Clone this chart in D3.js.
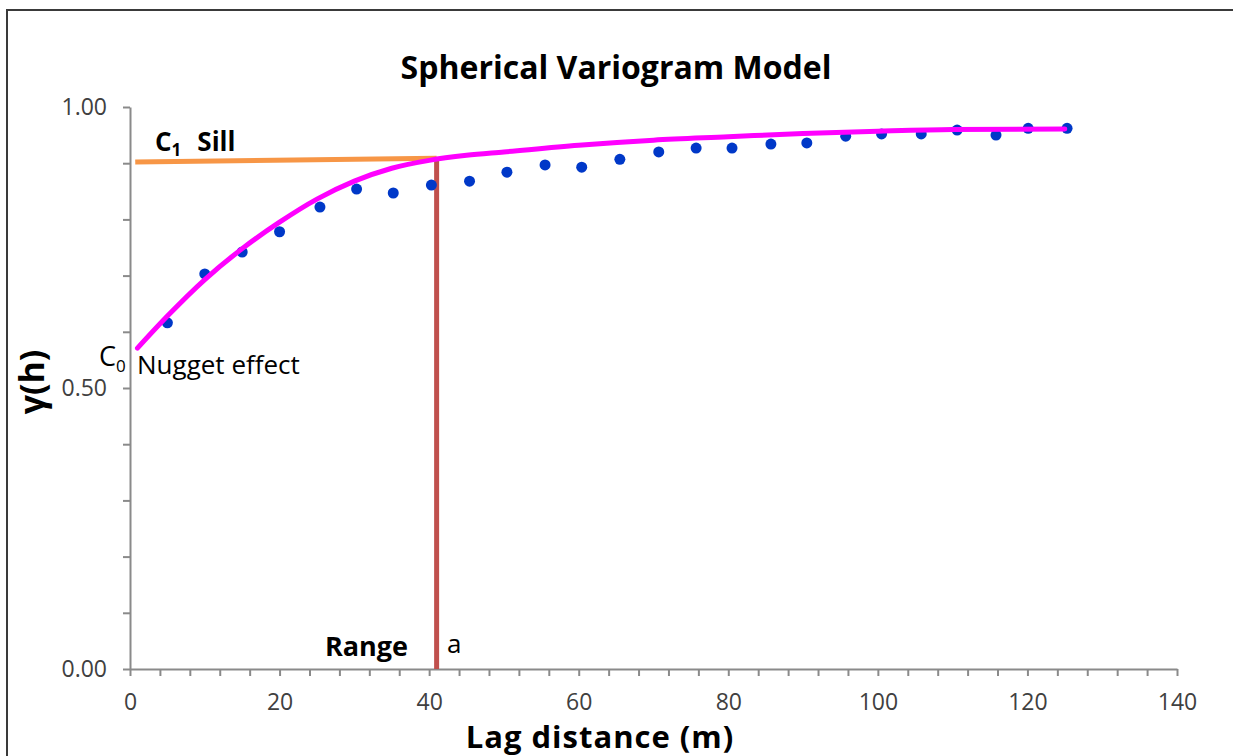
<!DOCTYPE html>
<html>
<head>
<meta charset="utf-8">
<script src="https://cdn.jsdelivr.net/npm/d3@7"></script>
<style>
  body { margin: 0; background: #fff; }
  text { font-family: "Open Sans", sans-serif; }
</style>
</head>
<body>
<div id="chart"></div>
<script>
var svgWidth = 1233;
var svgHeight = 756;

var margin = {
  top: 107,
  right: 56,
  bottom: 87,
  left: 130
};

var width = svgWidth - margin.left - margin.right;
var height = svgHeight - margin.top - margin.bottom;

var lagDistance = [5, 10, 15, 20, 25.4, 30.3, 35.2, 40.3, 45.4, 50.4, 55.5, 60.4, 65.5,
  70.7, 75.7, 80.5, 85.7, 90.5, 95.7, 100.5, 105.8, 110.6, 115.8, 120.1, 125.3];
var gammaObserved = [0.616, 0.703, 0.742, 0.778, 0.822, 0.854, 0.847, 0.861, 0.868, 0.884,
  0.897, 0.893, 0.907, 0.920, 0.927, 0.927, 0.934, 0.936, 0.948, 0.952, 0.952, 0.959,
  0.950, 0.962, 0.962];

// fitted model curve
var modelLag = [1, 5, 10, 15, 20, 25, 30, 35, 40, 45, 50, 60, 70, 80, 90, 100, 110, 125];
var modelGamma = [0.571, 0.628, 0.693, 0.748, 0.795, 0.836, 0.868, 0.891, 0.905, 0.914,
  0.920, 0.932, 0.941, 0.947, 0.953, 0.957, 0.960, 0.961];

// sill line and range
var sillLag = [0.7, 41];
var sillGamma = [0.902, 0.909];
var rangeLag = 41;

var xTicks = d3.range(0, 141, 4);
var yTicks = d3.range(0, 11).map(d => d / 10);
var xLabelTicks = [0, 20, 40, 60, 80, 100, 120, 140];
var yLabelTicks = [0, 0.5, 1];

var svg = d3
  .select("#chart")
  .append("svg")
  .attr("width", svgWidth)
  .attr("height", svgHeight);

// outer frame (only top/left visible in the picture)
svg.append("rect")
  .attr("x", 7)
  .attr("y", 10)
  .attr("width", svgWidth)
  .attr("height", svgHeight)
  .attr("fill", "none")
  .attr("stroke", "#3a3a3a")
  .attr("stroke-width", 2);

var chartGroup = svg.append("g")
  .attr("transform", `translate(${margin.left}, ${margin.top})`);

var xLinearScale = d3.scaleLinear()
  .domain([0, 140])
  .range([0, width]);

var yLinearScale = d3.scaleLinear()
  .domain([0, 1])
  .range([height, 0]);

var bottomAxis = d3.axisBottom(xLinearScale)
  .tickValues(xTicks)
  .tickSize(7)
  .tickSizeOuter(0)
  .tickPadding(18)
  .tickFormat(d => xLabelTicks.indexOf(d) >= 0 ? d : "");

var leftAxis = d3.axisLeft(yLinearScale)
  .tickValues(yTicks)
  .tickSize(7)
  .tickSizeOuter(0)
  .tickPadding(16)
  .tickFormat(d => yLabelTicks.some(v => Math.abs(v - d) < 1e-9) ? d3.format(".2f")(d) : "");

var xAxis = chartGroup.append("g")
  .attr("transform", `translate(0, ${height})`)
  .call(bottomAxis);

var yAxis = chartGroup.append("g")
  .call(leftAxis);

[xAxis, yAxis].forEach(function(ax) {
  ax.selectAll("path, line")
    .attr("stroke", "#8a8a8a")
    .attr("stroke-width", 2);
  ax.selectAll("text")
    .attr("fill", "#404040")
    .style("font-size", "23px")
    .style("font-family", "'Open Sans', sans-serif");
});

// sill line
var sillLine = d3.line()
  .x((d, i) => xLinearScale(sillLag[i]))
  .y((d, i) => yLinearScale(sillGamma[i]));

chartGroup.append("path")
  .datum(sillLag)
  .attr("d", sillLine)
  .attr("fill", "none")
  .attr("stroke", "#f79646")
  .attr("stroke-width", 5);

// range line
chartGroup.append("line")
  .attr("x1", xLinearScale(rangeLag))
  .attr("x2", xLinearScale(rangeLag))
  .attr("y1", yLinearScale(0))
  .attr("y2", yLinearScale(sillGamma[1]))
  .attr("stroke", "#c0504d")
  .attr("stroke-width", 5);

// points
chartGroup.selectAll("circle")
  .data(lagDistance)
  .enter()
  .append("circle")
  .attr("cx", d => xLinearScale(d))
  .attr("cy", (d, i) => yLinearScale(gammaObserved[i]))
  .attr("r", 5.5)
  .attr("fill", "#0038c8");

// model curve
var modelLine = d3.line()
  .curve(d3.curveMonotoneX)
  .x((d, i) => xLinearScale(modelLag[i]))
  .y((d, i) => yLinearScale(modelGamma[i]));

chartGroup.append("path")
  .datum(modelLag)
  .attr("d", modelLine)
  .attr("fill", "none")
  .attr("stroke", "#ff00ff")
  .attr("stroke-width", 5)
  .attr("stroke-linecap", "round");

// title
svg.append("text")
  .attr("x", 616)
  .attr("y", 79)
  .attr("text-anchor", "middle")
  .style("font-size", "32px")
  .style("font-weight", "bold")
  .text("Spherical Variogram Model");

// axis labels
svg.append("text")
  .attr("x", 600)
  .attr("y", 748)
  .attr("text-anchor", "middle")
  .style("font-size", "31px")
  .style("font-weight", "bold")
  .style("letter-spacing", "1px")
  .text("Lag distance (m)");

svg.append("text")
  .attr("transform", "translate(44, 382) rotate(-90)")
  .attr("text-anchor", "middle")
  .style("font-size", "34px")
  .style("font-weight", "bold")
  .text("γ(h)");

// annotations
var sillLabel = svg.append("text")
  .attr("x", 155)
  .attr("y", 151)
  .style("font-size", "26px")
  .style("font-weight", "bold");
sillLabel.append("tspan").text("C");
sillLabel.append("tspan").attr("dy", 5).style("font-size", "17px").text("1");
sillLabel.append("tspan").attr("dy", -5).attr("dx", 16).text("Sill");

var nuggetLabel = svg.append("text")
  .attr("x", 99)
  .attr("y", 366)
  .style("font-size", "27px");
nuggetLabel.append("tspan").text("C");
nuggetLabel.append("tspan").attr("dy", 6).style("font-size", "17px").text("0");

svg.append("text")
  .attr("x", 137)
  .attr("y", 374)
  .style("font-size", "26px")
  .text("Nugget effect");

svg.append("text")
  .attr("x", 408)
  .attr("y", 656)
  .attr("text-anchor", "end")
  .style("font-size", "27px")
  .style("font-weight", "bold")
  .text("Range");

svg.append("text")
  .attr("x", 447)
  .attr("y", 653)
  .style("font-size", "26px")
  .text("a");
</script>
</body>
</html>
